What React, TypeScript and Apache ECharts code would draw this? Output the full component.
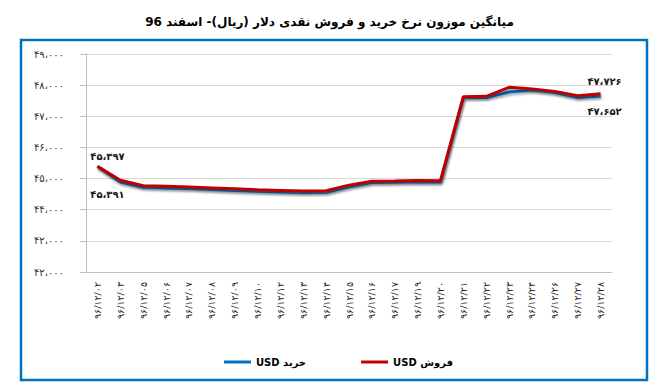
import React, { useEffect, useRef } from "react";
import * as echarts from "echarts";

const categories = [
  "۹۶/۱۲/۰۲", "۹۶/۱۲/۰۳", "۹۶/۱۲/۰۵", "۹۶/۱۲/۰۶", "۹۶/۱۲/۰۷", "۹۶/۱۲/۰۸",
  "۹۶/۱۲/۰۹", "۹۶/۱۲/۱۰", "۹۶/۱۲/۱۲", "۹۶/۱۲/۱۳", "۹۶/۱۲/۱۴", "۹۶/۱۲/۱۵",
  "۹۶/۱۲/۱۶", "۹۶/۱۲/۱۷", "۹۶/۱۲/۱۹", "۹۶/۱۲/۲۰", "۹۶/۱۲/۲۱", "۹۶/۱۲/۲۲",
  "۹۶/۱۲/۲۳", "۹۶/۱۲/۲۴", "۹۶/۱۲/۲۶", "۹۶/۱۲/۲۷", "۹۶/۱۲/۲۸",
];

const buyValues = [
  45391, 44890, 44720, 44700, 44680, 44650, 44620, 44590, 44570, 44550, 44560, 44740,
  44870, 44880, 44895, 44890, 47600, 47600, 47780, 47840, 47760, 47600, 47652,
];

const sellValues = [
  45397, 44945, 44770, 44750, 44730, 44700, 44670, 44640, 44620, 44600, 44610, 44790,
  44915, 44920, 44935, 44930, 47630, 47640, 47930, 47880, 47800, 47660, 47726,
];

const yTickLabels = [
  "۴۲،۰۰۰", "۴۲،۰۰۰", "۴۴،۰۰۰", "۴۵،۰۰۰", "۴۶،۰۰۰", "۴۷،۰۰۰", "۴۸،۰۰۰", "۴۹،۰۰۰",
];

const titleText = "میانگین موزون نرخ خرید و فروش نقدی دلار (ریال)- اسفند 96";
const buyName = "USD خرید";
const sellName = "USD فروش";

const FONT = "DejaVu Sans";

function toFa(n: number): string {
  const s = String(n);
  const digits = "۰۱۲۳۴۵۶۷۸۹";
  const withSep = s.replace(/\B(?=(\d{3})+(?!\d))/g, "،");
  return withSep.replace(/\d/g, (d) => digits[Number(d)]);
}

function buildData(values: number[], pos: "top" | "bottom", offFirst: number[], offLast: number[]) {
  return values.map((v, i) => {
    const edge = i === 0 || i === values.length - 1;
    return {
      value: v,
      label: edge
        ? {
            show: true,
            position: pos,
            distance: 5,
            offset: i === 0 ? offFirst : offLast,
            formatter: () => toFa(v),
            fontFamily: FONT,
            fontSize: 10,
            fontWeight: "bold",
            color: "#1a1a1a",
          }
        : { show: false },
    };
  });
}

export default function App() {
  const ref = useRef<HTMLDivElement>(null);
  useEffect(() => {
    if (!ref.current) return;
    const chart = echarts.init(ref.current, null, { renderer: "svg" });
    const shadow = {
      shadowColor: "rgba(0,0,0,0.35)",
      shadowBlur: 2,
      shadowOffsetX: 1,
      shadowOffsetY: 2,
    };
    chart.setOption({
      animation: false,
      backgroundColor: "#ffffff",
      title: {
        text: titleText,
        left: "center",
        top: 11,
        textStyle: { fontFamily: FONT, fontSize: 12, fontWeight: "bold", color: "#000" },
      },
      graphic: [
        {
          type: "rect",
          shape: { x: 21, y: 40, width: 626, height: 340 },
          style: { fill: "none", stroke: "#0070C0", lineWidth: 2.5 },
          silent: true,
          z: 0,
        },
      ],
      legend: {
        left: 219,
        top: 352,
        itemGap: 55,
        itemWidth: 27,
        itemHeight: 3,
        icon: "rect",
        textStyle: { fontFamily: FONT, fontSize: 10, fontWeight: "bold", color: "#000" },
        data: [buyName, sellName],
      },
      grid: { left: 86, right: 47, top: 54, bottom: 120 },
      xAxis: {
        type: "category",
        data: categories,
        boundaryGap: true,
        axisLine: { show: true, lineStyle: { color: "#bfbfbf" } },
        axisTick: { show: false },
        axisLabel: {
          rotate: 90,
          interval: 0,
          margin: 10,
          fontFamily: FONT,
          fontSize: 9.5,
          color: "#262626",
        },
      },
      yAxis: {
        type: "value",
        min: 42000,
        max: 49000,
        interval: 1000,
        axisLine: { show: true, lineStyle: { color: "#bfbfbf" } },
        axisTick: { show: true, length: 6, lineStyle: { color: "#bfbfbf" } },
        splitLine: { show: true, lineStyle: { color: "#d9d9d9" } },
        axisLabel: {
          margin: 22,
          fontFamily: FONT,
          fontSize: 10,
          color: "#333333",
          formatter: (v: number) => {
            const idx = Math.round((v - 42000) / 1000);
            return yTickLabels[idx] ?? "";
          },
        },
      },
      series: [
        {
          name: buyName,
          type: "line",
          data: buildData(buyValues, "bottom", [10, 18], [4, 6]),
          symbol: "circle",
          symbolSize: 0.01,
          showSymbol: true,
          showAllSymbol: true,
          itemStyle: { color: "#0070C0" },
          lineStyle: { color: "#0070C0", width: 3, ...shadow },
          z: 2,
        },
        {
          name: sellName,
          type: "line",
          data: buildData(sellValues, "top", [10, 0], [4, -2]),
          symbol: "circle",
          symbolSize: 0.01,
          showSymbol: true,
          showAllSymbol: true,
          itemStyle: { color: "#C00000" },
          lineStyle: { color: "#C00000", width: 3, ...shadow },
          z: 3,
        },
      ],
    });
    return () => chart.dispose();
  }, []);
  return (
    <div
      ref={ref}
      style={{ position: "fixed", left: 0, top: 0, width: 659, height: 392 }}
    />
  );
}
